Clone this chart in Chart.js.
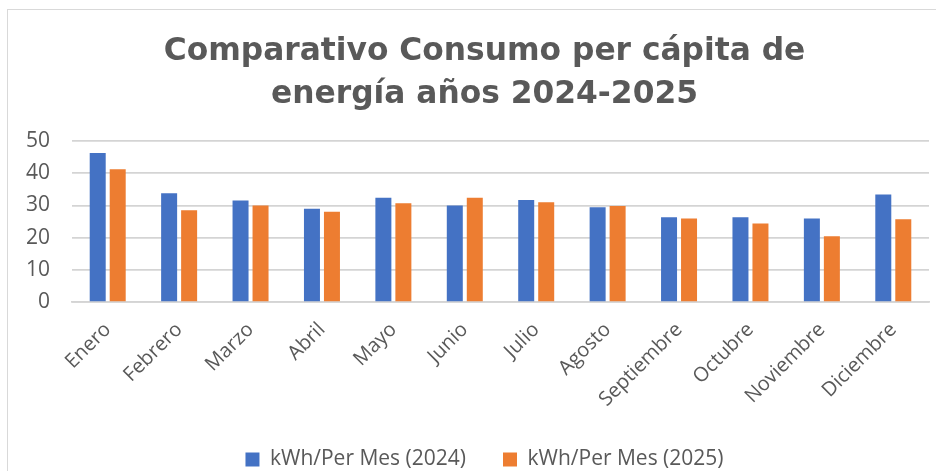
<!DOCTYPE html>
<html lang="es">

<head>
  <meta charset="UTF-8">
  <meta name="viewport" content="width=device-width, initial-scale=1.0">
  <title>Comparativo Consumo per cápita</title>
  <style>
    * {
      margin: 0;
      padding: 0;
    }

    body {
      width: 936px;
      height: 471px;
      overflow: hidden;
      background: #ffffff;
      position: relative;
    }

    .frame {
      position: absolute;
      left: 7px;
      top: 9px;
      width: 960px;
      height: 500px;
      border-left: 1.5px solid #d9d9d9;
      border-top: 1.5px solid #d9d9d9;
    }

    .chartBox {
      position: absolute;
      left: 0;
      top: 0;
      width: 936px;
      height: 471px;
    }
  </style>
</head>

<body>
  <div class="frame"></div>
  <div class="chartBox">
    <canvas id="myChart" width="936" height="471"></canvas>
  </div>
  <script src="https://cdn.jsdelivr.net/npm/chart.js@4/dist/chart.umd.min.js"></script>
  <script>
    const meses = ['Enero', 'Febrero', 'Marzo', 'Abril', 'Mayo', 'Junio', 'Julio', 'Agosto',
      'Septiembre', 'Octubre', 'Noviembre', 'Diciembre'];
    const consumo2024 = [46.3, 33.8, 31.5, 29.0, 32.4, 30.0, 31.7, 29.4, 26.3, 26.3, 25.9, 33.4];
    const consumo2025 = [41.2, 28.5, 30.0, 28.0, 30.7, 32.4, 31.0, 29.8, 25.9, 24.4, 20.4, 25.7];
    const yTicks = [0, 10, 20, 30, 40, 50];

    const gris = '#595959';

    // the original frame is wider than the picture, so title and legend are centred a bit to the right
    const shiftBoxes = {
      id: 'shiftBoxes',
      afterLayout(chart) {
        chart.titleBlock.left += 40;
        chart.legend.left += 40;
      }
    };

    const data = {
      labels: meses,
      datasets: [
        {
          label: 'kWh/Per Mes (2024)',
          data: consumo2024,
          backgroundColor: '#4472C4',
          categoryPercentage: 0.56,
          barPercentage: 0.8
        },
        {
          label: 'kWh/Per Mes (2025)',
          data: consumo2025,
          backgroundColor: '#ED7D31',
          categoryPercentage: 0.56,
          barPercentage: 0.8
        }
      ]
    };

    const options = {
      responsive: false,
      animation: false,
      layout: {
        padding: { left: 0, right: 7, top: 0, bottom: -9 }
      },
      plugins: {
        title: {
          display: true,
          text: ['Comparativo Consumo per cápita de', 'energía años 2024-2025'],
          color: gris,
          font: { family: 'DejaVu Sans', size: 31.3, weight: 'bold', lineHeight: 1.35 },
          padding: { top: 31, bottom: 25.5 }
        },
        legend: {
          position: 'bottom',
          labels: {
            color: gris,
            boxWidth: 14,
            boxHeight: 14,
            padding: 37,
            font: { family: 'Open Sans', size: 21 }
          }
        },
        tooltip: { enabled: false }
      },
      scales: {
        x: {
          grid: { display: false },
          border: { display: true, color: '#d4d4d4', width: 1.7 },
          ticks: {
            color: gris,
            minRotation: 45,
            maxRotation: 45,
            padding: 8,
            font: { family: 'Open Sans', size: 20 }
          },
          afterFit: (scale) => {
            scale.height = 110;
          }
        },
        y: {
          min: 0,
          max: 50,
          afterBuildTicks: (scale) => {
            scale.ticks = yTicks.map(v => ({ value: v }));
          },
          grid: { color: '#d4d4d4', lineWidth: 1.7, drawTicks: false },
          border: { display: false },
          ticks: {
            color: gris,
            padding: 22,
            font: { family: 'Open Sans', size: 21 }
          },
          afterFit: (scale) => {
            scale.width = 72;
          }
        }
      }
    };

    const ctx = document.getElementById('myChart').getContext('2d');
    const myChart = new Chart(ctx, { type: 'bar', data: data, options: options, plugins: [shiftBoxes] });
  </script>
</body>

</html>
